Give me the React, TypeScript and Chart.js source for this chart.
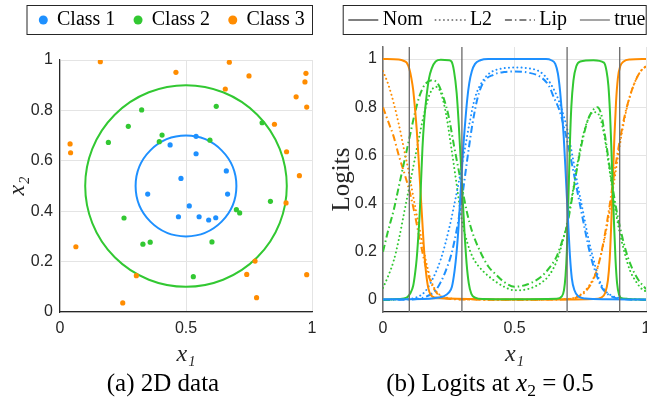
import { useEffect, useRef } from 'react';
import { Chart, registerables } from 'chart.js';

Chart.register(...registerables);

// ---------- data: panel (a) ----------
const class1X = [0.437, 0.540, 0.540, 0.660, 0.480, 0.348, 0.665, 0.513, 0.470, 0.552, 0.590, 0.618];
const class1Y = [0.663, 0.697, 0.628, 0.560, 0.530, 0.468, 0.468, 0.421, 0.378, 0.378, 0.365, 0.374];
const class2X = [0.324, 0.620, 0.271, 0.802, 0.405, 0.192, 0.394, 0.595, 0.254, 0.700, 0.713, 0.835, 0.329, 0.358, 0.603, 0.529];
const class2Y = [0.802, 0.816, 0.737, 0.751, 0.702, 0.673, 0.676, 0.682, 0.373, 0.406, 0.393, 0.439, 0.269, 0.277, 0.278, 0.140];
const class3X = [0.160, 0.460, 0.672, 0.750, 0.656, 0.976, 0.972, 0.937, 0.979, 0.851, 0.040, 0.042, 0.899, 0.950, 0.897, 0.063, 0.774, 0.303, 0.741, 0.979, 0.780, 0.249];
const class3Y = [0.993, 0.951, 0.991, 0.937, 0.885, 0.947, 0.913, 0.854, 0.813, 0.745, 0.667, 0.632, 0.636, 0.541, 0.433, 0.259, 0.202, 0.144, 0.149, 0.148, 0.057, 0.036];
const classLabels = ['Class 1', 'Class 2', 'Class 3'];
const circleCenter = [0.5, 0.5];
const circleRadii = [0.2, 0.4];
const dataXTicks = [0, 0.5, 1];
const dataYTicks = [0, 0.2, 0.4, 0.6, 0.8, 1];

// ---------- data: panel (b) ----------
const nomBlue: [number, number][] = [[0, 0.003], [0.15, 0.004], [0.2, 0.008], [0.23, 0.015], [0.25, 0.03], [0.262, 0.055], [0.272, 0.12], [0.28, 0.2], [0.287, 0.3], [0.293, 0.41], [0.299, 0.52], [0.305, 0.63], [0.312, 0.73], [0.32, 0.83], [0.328, 0.9], [0.338, 0.95], [0.35, 0.98], [0.37, 0.995], [0.4, 1.0], [0.62, 1.0], [0.64, 0.995], [0.655, 0.98], [0.665, 0.94], [0.673, 0.87], [0.68, 0.78], [0.687, 0.68], [0.693, 0.56], [0.699, 0.43], [0.705, 0.3], [0.711, 0.18], [0.718, 0.09], [0.728, 0.04], [0.742, 0.015], [0.77, 0.006], [0.85, 0.003], [1, 0.002]];
const nomGreen: [number, number][] = [[0, 0.002], [0.06, 0.004], [0.09, 0.01], [0.105, 0.03], [0.115, 0.06], [0.122, 0.11], [0.128, 0.17], [0.134, 0.26], [0.14, 0.37], [0.145, 0.5], [0.15, 0.63], [0.157, 0.75], [0.166, 0.85], [0.175, 0.92], [0.185, 0.96], [0.2, 0.99], [0.22, 0.997], [0.25, 0.995], [0.26, 0.99], [0.27, 0.95], [0.28, 0.86], [0.288, 0.73], [0.296, 0.57], [0.303, 0.42], [0.31, 0.28], [0.318, 0.15], [0.326, 0.07], [0.336, 0.025], [0.35, 0.01], [0.38, 0.004], [0.5, 0.003], [0.66, 0.005], [0.68, 0.015], [0.688, 0.04], [0.694, 0.1], [0.699, 0.2], [0.703, 0.35], [0.707, 0.5], [0.711, 0.66], [0.716, 0.8], [0.724, 0.91], [0.735, 0.97], [0.75, 0.99], [0.8, 0.995], [0.84, 0.985], [0.85, 0.95], [0.857, 0.89], [0.863, 0.78], [0.868, 0.64], [0.873, 0.48], [0.878, 0.33], [0.884, 0.17], [0.89, 0.07], [0.898, 0.02], [0.91, 0.006], [1, 0.002]];
const nomOrange: [number, number][] = [[0, 1.0], [0.06, 0.998], [0.08, 0.992], [0.09, 0.985], [0.1, 0.96], [0.108, 0.92], [0.115, 0.87], [0.122, 0.79], [0.128, 0.71], [0.134, 0.61], [0.14, 0.5], [0.146, 0.39], [0.152, 0.28], [0.158, 0.18], [0.164, 0.11], [0.172, 0.05], [0.182, 0.02], [0.2, 0.01], [0.25, 0.006], [0.35, 0.004], [0.5, 0.002], [0.7, 0.002], [0.8, 0.004], [0.83, 0.01], [0.845, 0.03], [0.855, 0.08], [0.862, 0.17], [0.868, 0.32], [0.874, 0.5], [0.88, 0.68], [0.886, 0.82], [0.893, 0.92], [0.902, 0.97], [0.915, 0.99], [0.94, 0.998], [1, 1.0]];
const l2Blue: [number, number][] = [[0, 0.001], [0.1, 0.004], [0.13, 0.012], [0.16, 0.035], [0.19, 0.09], [0.22, 0.17], [0.25, 0.29], [0.27, 0.39], [0.29, 0.5], [0.31, 0.62], [0.33, 0.74], [0.35, 0.84], [0.38, 0.91], [0.41, 0.945], [0.45, 0.96], [0.5, 0.965], [0.55, 0.962], [0.6, 0.945], [0.63, 0.91], [0.66, 0.85], [0.68, 0.79], [0.7, 0.71], [0.72, 0.6], [0.74, 0.48], [0.76, 0.37], [0.78, 0.26], [0.8, 0.17], [0.82, 0.09], [0.84, 0.045], [0.87, 0.018], [0.9, 0.008], [0.95, 0.003], [1, 0.001]];
const l2Green: [number, number][] = [[0, 0.05], [0.02, 0.1], [0.04, 0.16], [0.06, 0.25], [0.08, 0.36], [0.1, 0.47], [0.12, 0.58], [0.14, 0.69], [0.16, 0.79], [0.18, 0.86], [0.2, 0.885], [0.22, 0.86], [0.24, 0.77], [0.26, 0.63], [0.28, 0.48], [0.3, 0.33], [0.32, 0.24], [0.34, 0.18], [0.36, 0.145], [0.38, 0.12], [0.4, 0.1], [0.43, 0.075], [0.46, 0.055], [0.5, 0.04], [0.55, 0.045], [0.6, 0.07], [0.63, 0.1], [0.66, 0.16], [0.68, 0.23], [0.7, 0.32], [0.72, 0.44], [0.74, 0.57], [0.76, 0.68], [0.78, 0.75], [0.8, 0.78], [0.82, 0.77], [0.84, 0.69], [0.86, 0.55], [0.88, 0.4], [0.9, 0.28], [0.92, 0.19], [0.94, 0.12], [0.96, 0.08], [0.98, 0.05], [1, 0.035]];
const l2Orange: [number, number][] = [[0, 0.95], [0.02, 0.895], [0.04, 0.82], [0.06, 0.73], [0.08, 0.625], [0.1, 0.52], [0.12, 0.4], [0.14, 0.29], [0.16, 0.18], [0.18, 0.09], [0.2, 0.04], [0.22, 0.018], [0.25, 0.008], [0.3, 0.003], [0.5, 0.001], [0.7, 0.004], [0.74, 0.015], [0.77, 0.04], [0.8, 0.09], [0.82, 0.15], [0.84, 0.24], [0.86, 0.36], [0.88, 0.5], [0.9, 0.64], [0.92, 0.76], [0.94, 0.85], [0.96, 0.91], [0.98, 0.95], [1, 0.97]];
const lipBlue: [number, number][] = [[0, 0.0], [0.12, 0.003], [0.16, 0.012], [0.2, 0.04], [0.22, 0.075], [0.24, 0.125], [0.26, 0.19], [0.28, 0.29], [0.3, 0.42], [0.32, 0.58], [0.34, 0.73], [0.36, 0.84], [0.38, 0.9], [0.42, 0.935], [0.46, 0.946], [0.5, 0.948], [0.55, 0.944], [0.6, 0.925], [0.63, 0.89], [0.65, 0.84], [0.67, 0.79], [0.69, 0.71], [0.71, 0.61], [0.73, 0.5], [0.75, 0.39], [0.77, 0.28], [0.79, 0.18], [0.81, 0.11], [0.83, 0.055], [0.86, 0.02], [0.9, 0.005], [1, 0.0]];
const lipGreen: [number, number][] = [[0, 0.2], [0.02, 0.29], [0.04, 0.37], [0.06, 0.47], [0.08, 0.57], [0.1, 0.67], [0.12, 0.77], [0.14, 0.85], [0.16, 0.895], [0.19, 0.912], [0.21, 0.895], [0.23, 0.84], [0.25, 0.76], [0.27, 0.64], [0.3, 0.47], [0.32, 0.36], [0.34, 0.28], [0.37, 0.2], [0.4, 0.14], [0.43, 0.105], [0.46, 0.075], [0.5, 0.055], [0.55, 0.065], [0.6, 0.095], [0.63, 0.13], [0.66, 0.18], [0.68, 0.24], [0.7, 0.31], [0.72, 0.43], [0.74, 0.56], [0.76, 0.67], [0.78, 0.75], [0.8, 0.79], [0.815, 0.8], [0.83, 0.77], [0.84, 0.71], [0.85, 0.64], [0.87, 0.49], [0.89, 0.36], [0.91, 0.26], [0.93, 0.18], [0.95, 0.125], [0.97, 0.085], [1, 0.045]];
const lipOrange: [number, number][] = [[0, 0.8], [0.02, 0.74], [0.04, 0.68], [0.06, 0.6], [0.08, 0.53], [0.1, 0.455], [0.12, 0.36], [0.14, 0.25], [0.16, 0.15], [0.18, 0.08], [0.2, 0.035], [0.22, 0.015], [0.25, 0.005], [0.3, 0.002], [0.5, 0.001], [0.7, 0.003], [0.74, 0.012], [0.77, 0.035], [0.8, 0.085], [0.82, 0.15], [0.84, 0.25], [0.86, 0.38], [0.88, 0.53], [0.9, 0.66], [0.92, 0.77], [0.94, 0.85], [0.96, 0.91], [0.98, 0.95], [1, 0.97]];
const trueBoundaries = [0.1, 0.3, 0.7, 0.9];
const logitRange = [-0.05, 1.05];
const logitXTicks = [0, 0.5, 1];
const logitYTicks = [0, 0.2, 0.4, 0.6, 0.8, 1];
const methodLabels = ['Nom', 'L2', 'Lip', 'true'];

// ---------- styles ----------
const BLUE = 'rgb(30,144,255)';
const GREEN = 'rgb(50,200,50)';
const ORANGE = 'rgb(255,140,0)';
const GRAY = '#808080';
const TRUE_GRAY = '#6a6a6a';
const GRID = '#e4e4e4';
const AXIS = '#262626';
const SANS = '"Liberation Sans", Arial, sans-serif';
const SERIF = '"Liberation Serif", "Times New Roman", serif';
const DOT = [0.01, 4.2];
const DASHDOT = [7, 3, 1.5, 3];

type LegendEntry = { label: string; color: string; marker: 'dot' | 'line'; dash?: number[]; width?: number; cap?: CanvasLineCap };

function makeBoxLegend(id: string, entries: LegendEntry[], box: { x: number; y: number; w: number; h: number },
  lay: { start: number; markerW: number; textGap: number; itemGap: number; size: number }) {
  return {
    id,
    afterDraw(chart: Chart) {
      const ctx = chart.ctx;
      ctx.save();
      ctx.strokeStyle = AXIS;
      ctx.lineWidth = 1;
      ctx.setLineDash([]);
      ctx.strokeRect(box.x + 0.5, box.y + 0.5, box.w, box.h);
      ctx.font = `${lay.size}px ${SERIF}`;
      ctx.textBaseline = 'middle';
      ctx.textAlign = 'left';
      const cy = box.y + box.h / 2 + 0.5;
      let cx = box.x + lay.start;
      entries.forEach((it) => {
        if (it.marker === 'dot') {
          ctx.beginPath();
          ctx.fillStyle = it.color;
          ctx.arc(cx + lay.markerW / 2, cy, lay.markerW / 2, 0, Math.PI * 2);
          ctx.fill();
        } else {
          ctx.beginPath();
          ctx.setLineDash(it.dash || []);
          ctx.lineCap = it.cap || 'butt';
          ctx.lineWidth = it.width || 2;
          ctx.strokeStyle = it.color;
          ctx.moveTo(cx, cy);
          ctx.lineTo(cx + lay.markerW, cy);
          ctx.stroke();
          ctx.setLineDash([]);
        }
        cx += lay.markerW + lay.textGap;
        ctx.fillStyle = '#000';
        ctx.fillText(it.label, cx, cy);
        cx += ctx.measureText(it.label).width + lay.itemGap;
      });
      ctx.restore();
    },
  };
}

const circlePlugin = {
  id: 'circles',
  beforeDatasetsDraw(chart: Chart) {
    const { ctx, chartArea } = chart;
    const xs = chart.scales.x;
    const ys = chart.scales.y;
    const colors = [BLUE, GREEN];
    ctx.save();
    ctx.beginPath();
    ctx.rect(chartArea.left, chartArea.top, chartArea.right - chartArea.left, chartArea.bottom - chartArea.top);
    ctx.clip();
    circleRadii.forEach((r, i) => {
      const cx = xs.getPixelForValue(circleCenter[0]);
      const cy = ys.getPixelForValue(circleCenter[1]);
      const rx = Math.abs(xs.getPixelForValue(circleCenter[0] + r) - cx);
      const ry = Math.abs(ys.getPixelForValue(circleCenter[1] + r) - cy);
      ctx.beginPath();
      ctx.ellipse(cx, cy, rx, ry, 0, 0, Math.PI * 2);
      ctx.strokeStyle = colors[i];
      ctx.lineWidth = 2;
      ctx.stroke();
    });
    ctx.restore();
  },
};

const zip = (xs: number[], ys: number[]) => xs.map((x, i) => ({ x, y: ys[i] }));
const pts = (p: [number, number][]) => p.map(([x, y]) => ({ x, y }));
const tickFont = { family: SANS, size: 16 };
const mathFont = { family: SERIF, style: 'italic', size: 24, lineHeight: 1 };

export default function App() {
  const leftRef = useRef<HTMLCanvasElement>(null);
  const rightRef = useRef<HTMLCanvasElement>(null);

  useEffect(() => {
    const colors = [BLUE, GREEN, ORANGE];
    const classData = [zip(class1X, class1Y), zip(class2X, class2Y), zip(class3X, class3Y)];
    const left = new Chart(leftRef.current!, {
      type: 'scatter',
      data: {
        datasets: classLabels.map((label, i) => ({
          label,
          data: classData[i],
          backgroundColor: colors[i],
          borderWidth: 0,
          pointRadius: 2.6,
        })),
      },
      options: {
        animation: false,
        responsive: false,
        events: [],
        layout: { padding: { top: 60, right: 18, left: 0, bottom: 0 } },
        plugins: { legend: { display: false }, tooltip: { enabled: false } },
        scales: {
          x: {
            type: 'linear', min: 0, max: 1,
            afterBuildTicks: (s: any) => { s.ticks = dataXTicks.map((v) => ({ value: v })); },
            afterFit: (s: any) => { s.height = 58; s.paddingLeft = 0; s.paddingRight = 0; },
            grid: { color: GRID, drawTicks: false },
            border: { color: AXIS, width: 1.2 },
            ticks: { padding: 7, font: tickFont, color: AXIS, maxRotation: 0, callback: (v: any) => String(v) },
            title: { display: true, text: 'x₁', color: AXIS, font: mathFont, padding: { top: 0, bottom: 3 } },
          },
          y: {
            type: 'linear', min: 0, max: 1,
            afterBuildTicks: (s: any) => { s.ticks = dataYTicks.map((v) => ({ value: v })); },
            afterFit: (s: any) => { s.width = 60; },
            grid: { color: GRID, drawTicks: false },
            border: { color: AXIS, width: 1.2 },
            ticks: { padding: 7, font: tickFont, color: AXIS, callback: (v: any) => String(v) },
            title: { display: true, text: 'x₂', color: AXIS, font: mathFont, padding: { top: 6, bottom: 0 } },
          },
        },
      },
      plugins: [
        circlePlugin,
        makeBoxLegend('legendA', classLabels.map((l, i) => ({ label: l, color: colors[i], marker: 'dot' as const })),
          { x: 26.5, y: 5, w: 285.5, h: 29 }, { start: 12.3, markerW: 9, textGap: 9.2, itemGap: 18.2, size: 20 }),
      ],
    } as any);

    const curveGroups = [
      { style: 'solid', sets: [nomBlue, nomGreen, nomOrange] },
      { style: 'dot', sets: [l2Blue, l2Green, l2Orange] },
      { style: 'dashdot', sets: [lipBlue, lipGreen, lipOrange] },
    ];
    const curveDatasets: any[] = [];
    curveGroups.forEach((g, gi) => {
      g.sets.forEach((s, ci) => {
        curveDatasets.push({
          type: 'line',
          label: `${methodLabels[gi]} ${classLabels[ci]}`,
          data: pts(s),
          borderColor: colors[ci],
          borderWidth: 2,
          borderDash: g.style === 'dot' ? DOT : g.style === 'dashdot' ? DASHDOT : [],
          borderCapStyle: g.style === 'dot' ? 'round' : 'butt',
          pointRadius: 0,
          fill: false,
          cubicInterpolationMode: 'monotone',
        });
      });
    });
    const trueDatasets = trueBoundaries.map((b) => ({
      type: 'line',
      label: 'true',
      data: [{ x: b, y: logitRange[0] }, { x: b, y: logitRange[1] }],
      borderColor: TRUE_GRAY,
      borderWidth: 1.3,
      pointRadius: 0,
      fill: false,
    }));

    const right = new Chart(rightRef.current!, {
      type: 'line',
      data: { datasets: [...trueDatasets, ...curveDatasets] },
      options: {
        animation: false,
        responsive: false,
        events: [],
        layout: { padding: { top: 47, right: 1, left: 0, bottom: 0 } },
        plugins: { legend: { display: false }, tooltip: { enabled: false } },
        scales: {
          x: {
            type: 'linear', min: 0, max: 1,
            afterBuildTicks: (s: any) => { s.ticks = logitXTicks.map((v) => ({ value: v })); },
            afterFit: (s: any) => { s.height = 58; s.paddingLeft = 0; s.paddingRight = 0; },
            grid: { color: GRID, drawTicks: false },
            border: { color: AXIS, width: 1.2 },
            ticks: { padding: 7, font: tickFont, color: AXIS, maxRotation: 0, callback: (v: any) => String(v) },
            title: { display: true, text: 'x₁', color: AXIS, font: mathFont, padding: { top: 0, bottom: 3 } },
          },
          y: {
            type: 'linear', min: logitRange[0], max: logitRange[1],
            afterBuildTicks: (s: any) => { s.ticks = logitYTicks.map((v) => ({ value: v })); },
            afterFit: (s: any) => { s.width = 53; s.paddingTop = 0; s.paddingBottom = 0; },
            grid: { color: GRID, drawTicks: false },
            border: { color: '#707070', width: 1.5 },
            ticks: { padding: 6, font: tickFont, color: AXIS, callback: (v: any) => String(v) },
            title: { display: true, text: 'Logits', color: AXIS, font: { family: SERIF, size: 25, lineHeight: 1 }, padding: { top: 0, bottom: 0 } },
          },
        },
      },
      plugins: [
        makeBoxLegend('legendB', [
          { label: methodLabels[0], color: GRAY, marker: 'line', width: 2 },
          { label: methodLabels[1], color: GRAY, marker: 'line', width: 2, dash: DOT, cap: 'round' },
          { label: methodLabels[2], color: GRAY, marker: 'line', width: 2, dash: DASHDOT },
          { label: methodLabels[3], color: TRUE_GRAY, marker: 'line', width: 1.2 },
        ], { x: 12.7, y: 5, w: 303, h: 29 }, { start: 5.6, markerW: 30, textGap: 4.4, itemGap: 12.8, size: 20 }),
      ],
    } as any);

    return () => { left.destroy(); right.destroy(); };
  }, []);

  const cap: React.CSSProperties = { position: 'absolute', top: 369, height: 28, lineHeight: '28px', textAlign: 'center', fontFamily: SERIF, fontSize: 25, color: '#000', whiteSpace: 'nowrap' };
  return (
    <div style={{ position: 'fixed', left: 0, top: 0, width: 647, height: 405, background: '#fff', overflow: 'hidden' }}>
      <canvas ref={leftRef} width={330} height={370} style={{ position: 'absolute', left: 0, top: 0, width: 330, height: 370 }} />
      <canvas ref={rightRef} width={317} height={370} style={{ position: 'absolute', left: 330, top: 0, width: 317, height: 370 }} />
      <div style={{ ...cap, left: 0, width: 326 }}>(a) 2D data</div>
      <div style={{ ...cap, left: 333, width: 314 }}>
        (b) Logits at <i>x</i><sub style={{ fontSize: '0.7em', verticalAlign: '-0.3em', lineHeight: 0 }}>2</sub> = 0.5
      </div>
    </div>
  );
}
